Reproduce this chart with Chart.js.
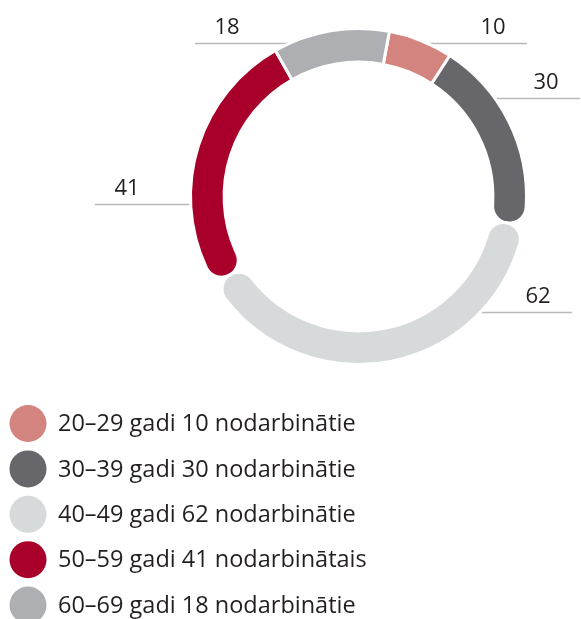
<!DOCTYPE html>
<html lang="lv">
<head>
    <meta charset="UTF-8">
    <title>Nodarbinātie pa vecuma grupām</title>
    <script src="https://cdn.jsdelivr.net/npm/chart.js"></script>
    <style>
        body { margin: 0; background: #fff; }
        .wrap { position: relative; width: 581px; height: 619px; }
    </style>
</head>
<body>
    <div class="wrap">
        <canvas id="grafiks"></canvas>
    </div>

<script>
    // dati
    const vecumaGrupas = ['20–29', '30–39', '40–49', '50–59', '60–69'];
    const nodarbinatie = [10, 30, 62, 41, 18];
    const apraksti = ['nodarbinātie', 'nodarbinātie', 'nodarbinātie', 'nodarbinātais', 'nodarbinātie'];
    const krasas = ['#d3847f', '#67666b', '#d7dadb', '#a9002b', '#aeafb2'];

    // kuram segmentam ir noapaļoti gali
    const apalsSakums = [false, false, true, true, false];
    const apalsBeigas = [false, true, true, false, false];

    // atsauces līnijas: y nobīde no centra, x gals no centra
    const liniju_dy = [-153.5, -98.5, 115.5, 7.5, -153.5];
    const liniju_dxGals = [168.5, 221.5, 213.5, -263.5, -163.5];

    const tekstaKrasa = '#231f20';
    const fonts = '"Open Sans", "Noto Sans", sans-serif';

    const atsaucesLinijas = {
        id: 'atsaucesLinijas',
        beforeDatasetsDraw(chart) {
            const arc = chart.getDatasetMeta(0).data[0];
            const cx = arc.x, cy = arc.y;
            const r = arc.outerRadius - 1.5;
            const ctx = chart.ctx;
            ctx.save();
            ctx.strokeStyle = '#b9b9b9';
            ctx.lineWidth = 1.5;
            liniju_dy.forEach((dy, i) => {
                const y = Math.round(cy + dy) + 0.5;
                const mala = Math.sqrt(Math.max(r * r - dy * dy, 0));
                const gals = liniju_dxGals[i];
                const x0 = gals > 0 ? cx + mala - 2 : cx - mala + 2;
                ctx.beginPath();
                ctx.moveTo(x0, y);
                ctx.lineTo(cx + gals, y);
                ctx.stroke();
            });
            ctx.restore();
        },
        afterDraw(chart) {
            const arc = chart.getDatasetMeta(0).data[0];
            const cx = arc.x, cy = arc.y;
            const ctx = chart.ctx;
            ctx.save();
            ctx.fillStyle = tekstaKrasa;
            ctx.font = '22px ' + fonts;
            ctx.textAlign = 'center';
            ctx.textBaseline = 'alphabetic';
            nodarbinatie.forEach((v, i) => {
                const gals = liniju_dxGals[i];
                const x = gals > 0 ? cx + gals - 34 : cx + gals + 32;
                const y = Math.round(cy + liniju_dy[i]) - 9;
                ctx.fillText(String(v), x, y);
            });

            // leģenda
            ctx.textAlign = 'left';
            ctx.textBaseline = 'middle';
            ctx.font = '23.5px ' + fonts;
            vecumaGrupas.forEach((g, i) => {
                const y = 423.5 + i * 45.4;
                ctx.beginPath();
                ctx.fillStyle = krasas[i];
                ctx.arc(28, y, 18.5, 0, Math.PI * 2);
                ctx.fill();
                ctx.fillStyle = tekstaKrasa;
                ctx.fillText(`${g} gadi ${nodarbinatie[i]} ${apraksti[i]}`, 58, y + 1);
            });
            ctx.restore();
        }
    };

    new Chart(document.getElementById('grafiks'), {
        type: 'doughnut',
        data: {
            labels: vecumaGrupas,
            datasets: [{
                data: nodarbinatie,
                backgroundColor: krasas,
                borderColor: '#ffffff',
                borderWidth: 3,
                borderRadius: function (c) {
                    const i = c.dataIndex;
                    if (i === undefined) return 0;
                    const s = apalsSakums[i] ? 20 : 0;
                    const e = apalsBeigas[i] ? 20 : 0;
                    return { outerStart: s, innerStart: s, outerEnd: e, innerEnd: e };
                }
            }]
        },
        options: {
            responsive: true,
            maintainAspectRatio: false,
            animation: false,
            rotation: 10.6,
            cutout: '80%',
            layout: {
                padding: { top: 27, left: 189, right: 53, bottom: 253 }
            },
            plugins: {
                legend: { display: false },
                tooltip: { enabled: false }
            }
        },
        plugins: [atsaucesLinijas]
    });
</script>
</body>
</html>
